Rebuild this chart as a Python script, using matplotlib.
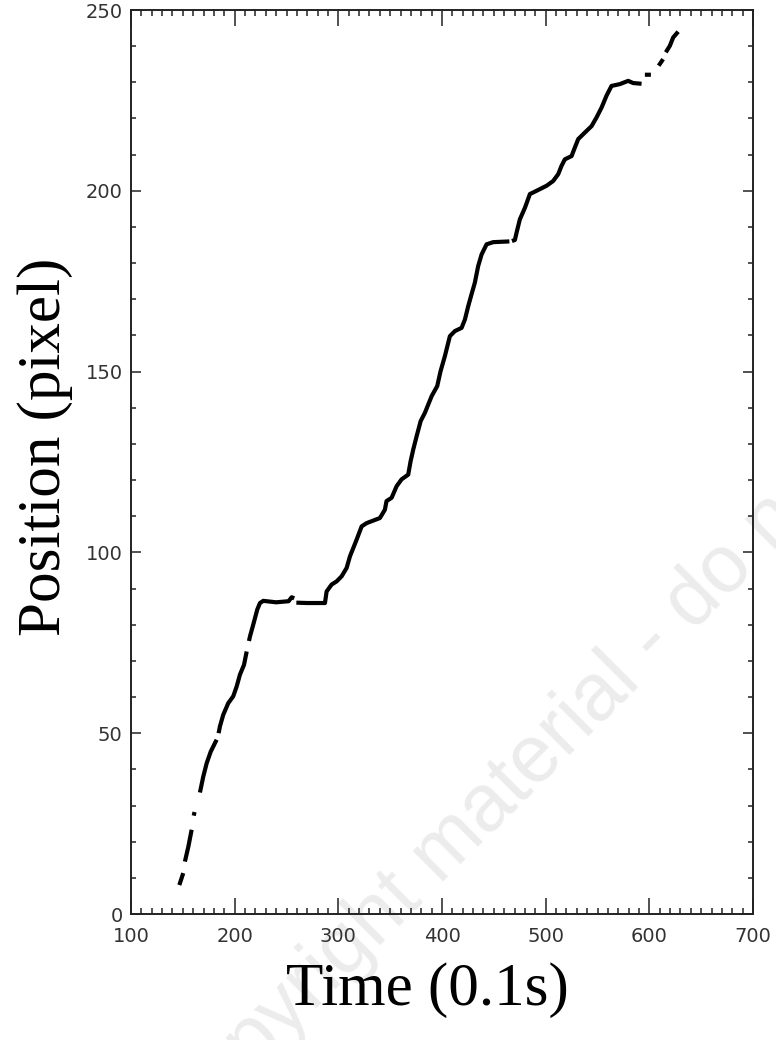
import numpy as np
import matplotlib
matplotlib.use("Agg")
import matplotlib.pyplot as plt
from matplotlib.ticker import MultipleLocator

nan = np.nan

# trace; nan marks the gaps between dashes
time = [146.6, 150.4, nan, 152.0, 155.3, 158.5, nan, 160.5, 161.3, nan,
        166.5, 169.7, 173.0, 176.9, 182.6, nan, 184.5, 185.8, 189.0, 193.8,
        198.6, 201.9, 205.1, 209.0, 211.6, nan, 213.8, 214.8, 217.9, 221.8,
        224.4, 227.6, 240.0, 252.0, 255.0, 257.5, nan, 259.5, 270.0, 287.1,
        288.7, 293.5, 298.4, 303.2, 308.0, 311.2, 314.4, 317.6, 322.5, 327.3,
        333.7, 340.1, 344.9, 346.5, 351.4, 356.2, 361.0, 367.4, 369.7, 372.3,
        375.5, 379.4, 383.5, 390.0, 395.4, 398.6, 402.8, 407.6, 412.4, 418.9,
        422.1, 425.3, 428.5, 431.7, 434.9, 438.2, 443.0, 449.4, 465.0, nan,
        467.5, 470.3, 471.9, 475.1, 480.0, 484.8, 491.2, 500.9, 507.2, 512.1,
        515.3, 518.5, 525.0, 528.2, 531.4, 537.8, 544.3, 549.1, 553.9, 558.7,
        563.5, 571.5, 579.6, 584.4, 592.5, nan, 595.7, 601.5, nan, 609.0,
        613.3, nan, 615.9, 619.8, 623.0, 627.8]
position = [8.0, 11.3, nan, 14.5, 18.6, 23.3, nan, 27.2, 28.2, nan,
            33.6, 38.0, 41.7, 44.9, 48.2, nan, 50.0, 51.9, 55.1, 58.3,
            60.2, 62.9, 66.2, 68.9, 72.6, nan, 75.5, 76.8, 80.0, 84.2,
            86.0, 86.6, 86.2, 86.5, 87.6, 87.3, nan, 86.1, 86.0, 86.0,
            89.2, 91.1, 92.0, 93.4, 95.7, 98.9, 101.2, 103.5, 107.2, 108.1,
            108.8, 109.5, 111.8, 114.2, 115.1, 118.3, 120.2, 121.5, 125.2, 128.5,
            132.1, 136.3, 138.6, 143.2, 146.0, 150.1, 154.3, 159.8, 161.2, 162.1,
            164.4, 168.1, 171.4, 174.6, 179.2, 182.4, 185.2, 185.8, 186.0, nan,
            186.1, 186.4, 188.4, 192.1, 195.3, 199.1, 200.0, 201.4, 202.7, 204.6,
            206.9, 208.7, 209.6, 212.0, 214.3, 216.1, 217.9, 220.3, 223.0, 226.3,
            229.0, 229.5, 230.4, 229.8, 229.6, nan, 232.1, 232.1, nan, 234.6,
            236.4, nan, 238.3, 240.1, 242.4, 244.0]

x_ticks = [100, 200, 300, 400, 500, 600, 700]
y_ticks = [0, 50, 100, 150, 200, 250]

fig = plt.figure(figsize=(7.76, 10.4), dpi=100)
ax = fig.add_axes([131 / 776, 126 / 1040, 622 / 776, 904 / 1040])
ax.patch.set_visible(False)

ax.plot(time, position, color="black", lw=3.0,
        solid_capstyle="butt", solid_joinstyle="round")

ax.set_xlim(100, 700)
ax.set_ylim(0, 250)
ax.set_xticks(x_ticks)
ax.set_yticks(y_ticks)
ax.xaxis.set_minor_locator(MultipleLocator(10))
ax.yaxis.set_minor_locator(MultipleLocator(10))

for s in ax.spines.values():
    s.set_linewidth(1.4)
    s.set_color("#222222")

ax.tick_params(axis="both", which="both", direction="in",
               top=True, right=True, width=1.1, color="#222222",
               labelsize=14, labelcolor="#333333")
ax.tick_params(axis="x", which="major", length=11.5, pad=9)
ax.tick_params(axis="x", which="minor", length=4.3)
ax.tick_params(axis="y", which="major", length=7.2, pad=6)
ax.tick_params(axis="y", which="minor", length=3.6)

serif = ["Liberation Serif", "DejaVu Serif"]
fig.text(427 / 776, 1 - 1005 / 1040, "Time (0.1s)", family=serif,
         fontsize=44, ha="center", va="baseline")
fig.text(45 / 776, 1 - 447 / 1040, "Position (pixel)", family=serif,
         fontsize=44, ha="center", va="center", rotation=90)

# faint watermark across the lower right, cut by the edges as in the source
fig.text(575 / 776, 1 - 720 / 1040, "copyright material - do not copy",
         family=["Liberation Sans", "DejaVu Sans"], fontsize=58,
         color="#ececec", rotation=45, rotation_mode="anchor",
         ha="center", va="center", zorder=-1)

fig.savefig("out.png", dpi=100)
